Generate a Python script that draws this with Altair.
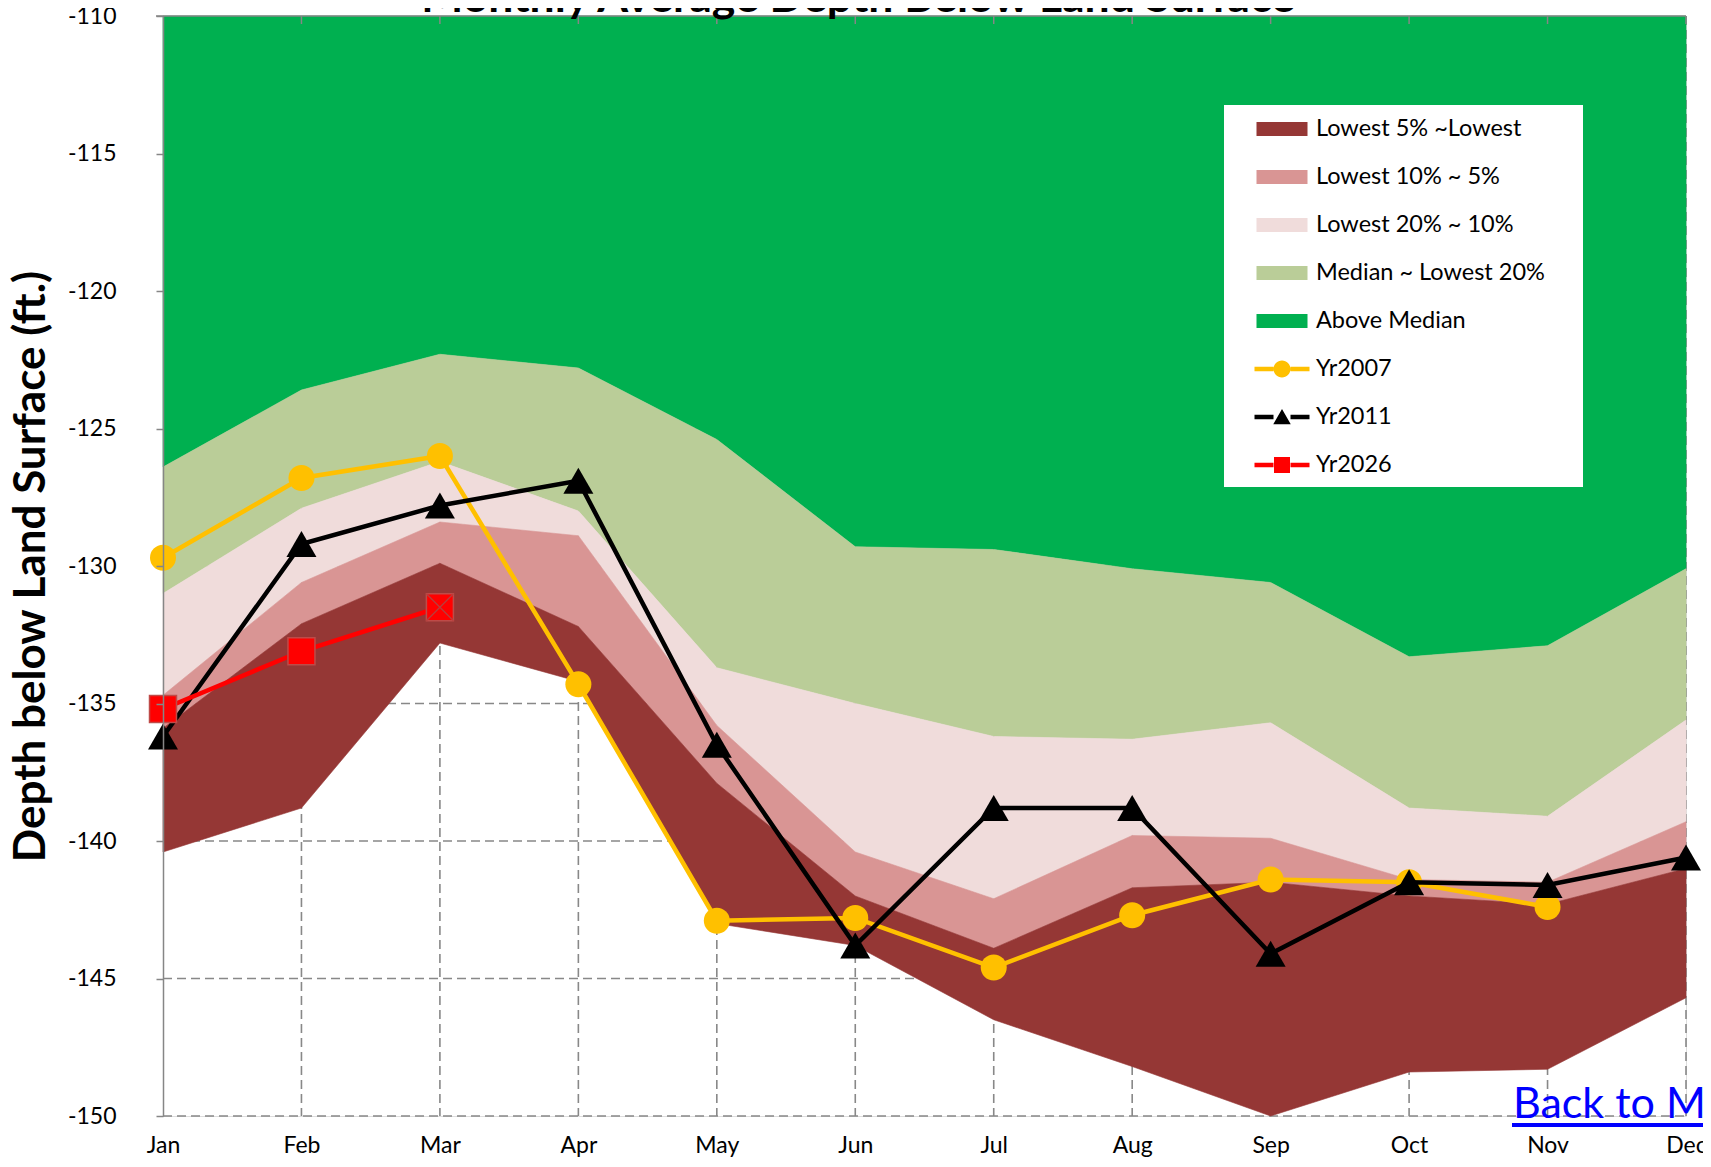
import altair as alt
import pandas as pd

# ---------------- data ----------------
months = ["Jan", "Feb", "Mar", "Apr", "May", "Jun", "Jul", "Aug", "Sep", "Oct", "Nov", "Dec"]
axis_top = -110
median = [-126.4, -123.6, -122.3, -122.8, -125.4, -129.3, -129.4, -130.1, -130.6, -133.3, -132.9, -130.1]
low20 = [-131.0, -127.9, -126.2, -128.0, -133.7, -135.0, -136.2, -136.3, -135.7, -138.8, -139.1, -135.6]
low10 = [-134.7, -130.6, -128.4, -128.9, -135.8, -140.4, -142.1, -139.8, -139.9, -141.4, -141.5, -139.3]
low5 = [-135.9, -132.1, -129.9, -132.2, -137.9, -142.0, -143.9, -141.7, -141.5, -142.0, -142.3, -141.0]
lowest = [-140.4, -138.8, -132.8, -134.2, -143.0, -143.8, -146.5, -148.2, -150.0, -148.4, -148.3, -145.7]

yr2007 = [-129.7, -126.8, -126.0, -134.3, -142.9, -142.8, -144.6, -142.7, -141.4, -141.5, -142.4]
yr2011 = [-136.2, -129.2, -127.8, -126.9, -136.5, -143.8, -138.8, -138.8, -144.1, -141.5, -141.6, -140.6]
yr2026 = [-135.2, -133.1, -131.5]

y_ticks = [-110, -115, -120, -125, -130, -135, -140, -145, -150]
grid_h = [-115, -120, -125, -130, -135, -140, -145, -150]

legend_names = ["Lowest 5% ~Lowest", "Lowest 10% ~ 5%", "Lowest 20% ~ 10%",
                "Median ~ Lowest 20%", "Above Median", "Yr2007", "Yr2011", "Yr2026"]
legend_colors = ["#953735", "#D99594", "#F0DCDB", "#BACD98", "#00B050",
                 "#FFC000", "#000000", "#FF0000"]

title_text = "Monthly Average Depth Below  Land Surface"
y_title = "Depth below Land Surface (ft.)"
link_label = "Back to Map"

# ---------------- styling ----------------
W, H = 1523, 1100
FONT = "Lato"
GRID = "#888888"

RECT = "M-1.02,-0.28H1.02V0.28H-1.02Z"
LINE_L = "M-1.1,-0.09H-0.34V0.09H-1.1Z"
LINE_R = "M0.34,-0.09H1.1V0.09H0.34Z"
CIRC = "M-0.34,0A0.34,0.34,0,1,0,0.34,0A0.34,0.34,0,1,0,-0.34,0Z"
TRI = "M0,-0.32L0.35,0.29H-0.35Z"
SQR = "M-0.32,-0.32H0.32V0.32H-0.32Z"
legend_shapes = [RECT] * 5 + [LINE_L + LINE_R + CIRC, LINE_L + LINE_R + TRI, LINE_L + LINE_R + SQR]

xs = alt.Scale(type="point", domain=months, padding=0)
ys = alt.Scale(domain=[-150, -110], nice=False, zero=False)

x_axis = alt.Axis(title=None, domain=False, ticks=False, tickSize=0, grid=False,
                  labelFont=FONT, labelFontSize=23, labelColor="#000000",
                  labelPadding=18, labelAngle=0)
y_axis = alt.Axis(title=y_title, values=y_ticks, grid=False,
                  labelExpr="'-' + abs(datum.value)",
                  domainColor="#868686", domainWidth=1.5, tickColor="#868686",
                  tickWidth=1.5, tickSize=7, labelFont=FONT, labelFontSize=23,
                  labelColor="#000000", labelPadding=40, titleFont=FONT,
                  titleFontSize=44, titleFontWeight="bold", titleColor="#000000",
                  titleX=-132, titleY=550, titleAngle=270, titleAlign="center",
                  titleBaseline="middle", zindex=1)


def X():
    return alt.X("month:N", scale=xs, axis=x_axis)


def Y(field):
    return alt.Y(f"{field}:Q", scale=ys, axis=y_axis)


band_df = pd.DataFrame({"month": months, "top": [axis_top] * 12, "median": median,
                        "low20": low20, "low10": low10, "low5": low5, "lowest": lowest})

# hidden helper layer that only drives the legend (sits under the green band)
leg_df = pd.DataFrame({"name": legend_names, "month": ["Jul"] * 8, "value": [-112] * 8})
leg = alt.Legend(title=None, orient="none", legendX=1094, legendY=88, symbolSize=2500,
                 symbolStrokeWidth=0, symbolOpacity=1, labelFont=FONT, labelFontSize=23.5,
                 labelColor="#000000", labelOffset=9, rowPadding=11, symbolOffset=0,
                 padding=0, labelLimit=600, zindex=1)
legend_layer = alt.Chart(leg_df).mark_point(filled=True, opacity=1, size=20).encode(
    x=X(), y=Y("value"),
    color=alt.Color("name:N", scale=alt.Scale(domain=legend_names, range=legend_colors), legend=leg),
    shape=alt.Shape("name:N", scale=alt.Scale(domain=legend_names, range=legend_shapes), legend=leg),
)

# grid lines (under the bands)
vgrid = alt.Chart(pd.DataFrame({"month": months[1:]})).mark_rule(
    color=GRID, strokeWidth=1.6, strokeDash=[9, 5]).encode(
    x=X(), y=alt.value(0), y2=alt.value(H))
hgrid = alt.Chart(pd.DataFrame({"value": grid_h})).mark_rule(
    color=GRID, strokeWidth=1.6, strokeDash=[9, 5]).encode(
    y=Y("value"), x=alt.value(0), x2=alt.value(W))

band_specs = [
    ("median", "top", "#00B050"),
    ("low20", "median", "#BACD98"),
    ("low10", "low20", "#F0DCDB"),
    ("low5", "low10", "#D99594"),
    ("lowest", "low5", "#953735"),
]
bands = []
for lo, hi, col in band_specs:
    bands.append(alt.Chart(band_df).mark_area(color=col, stroke=col, strokeWidth=0.6, opacity=1).encode(
        x=X(), y=Y(lo), y2=alt.Y2(f"{hi}:Q"),
    ))

# top border line and inward tick marks
top_line = alt.Chart(pd.DataFrame({"value": [axis_top]})).mark_rule(
    color="#868686", strokeWidth=1.6).encode(y=Y("value"), x=alt.value(-7), x2=alt.value(W))
top_ticks = alt.Chart(pd.DataFrame({"month": months[1:]})).mark_rule(
    color="#868686", strokeWidth=1.5).encode(x=X(), y=alt.value(0), y2=alt.value(8))

# legend background box
legend_box = alt.Chart(pd.DataFrame({"a": [0]})).mark_rect(color="#FFFFFF").encode(
    x=alt.value(1061), x2=alt.value(1420), y=alt.value(89), y2=alt.value(471))


def series(vals, color, shape, size, stroke=None):
    df = pd.DataFrame({"month": months[:len(vals)], "value": vals})
    line = alt.Chart(df).mark_line(color=color, strokeWidth=4.5).encode(x=X(), y=Y("value"))
    pkw = dict(filled=True, shape=shape, size=size, opacity=1, fill=color)
    if stroke:
        pkw.update(stroke=stroke, strokeWidth=1.5)
    else:
        pkw.update(strokeWidth=0)
    pts = alt.Chart(df).mark_point(**pkw).encode(x=X(), y=Y("value"))
    return [line, pts]


s2007 = series(yr2007, "#FFC000", "circle", 676)
s2011 = series(yr2011, "#000000", "triangle-up", 900)
s2026 = series(yr2026, "#FF0000", "square", 729, stroke="#BE4B48")

cross = alt.Chart(pd.DataFrame({"month": [months[len(yr2026) - 1]], "value": [yr2026[-1]]})).mark_point(
    shape="M-1,-1L1,1M-1,1L1,-1", size=729, filled=False, stroke="#B5403E",
    strokeWidth=1.2, opacity=1).encode(x=X(), y=Y("value"))

# chart title (partly cut at the top edge, as in the reference)
title_mark = alt.Chart(pd.DataFrame({"t": [title_text]})).mark_text(
    font=FONT, fontSize=44.5, fontWeight="bold", color="#000000", align="center",
    baseline="alphabetic").encode(text="t:N", x=alt.value(695), y=alt.value(-4))

# "Back to Map" link text
link_df = pd.DataFrame({"t": [link_label]})
link_text = alt.Chart(link_df).mark_text(font=FONT, fontSize=43, color="#0000FF",
                                         align="left", baseline="alphabetic").encode(
    text="t:N", x=alt.value(1350), y=alt.value(1102))
link_line = alt.Chart(link_df).mark_rule(color="#0000FF", strokeWidth=4).encode(
    x=alt.value(1349), x2=alt.value(1600), y=alt.value(1109))

chart = alt.layer(
    legend_layer, vgrid, hgrid, *bands, top_line, top_ticks, legend_box,
    *s2007, *s2011, *s2026, cross, title_mark, link_text, link_line,
).properties(
    width=W, height=H,
    padding={"left": 155, "top": 8, "right": 17, "bottom": 42},
    autosize=alt.AutoSizeParams(type="none"),
).configure_view(stroke=None).configure(background="#FFFFFF")

chart.save("out.html", embed_options={"renderer": "svg", "actions": False})
